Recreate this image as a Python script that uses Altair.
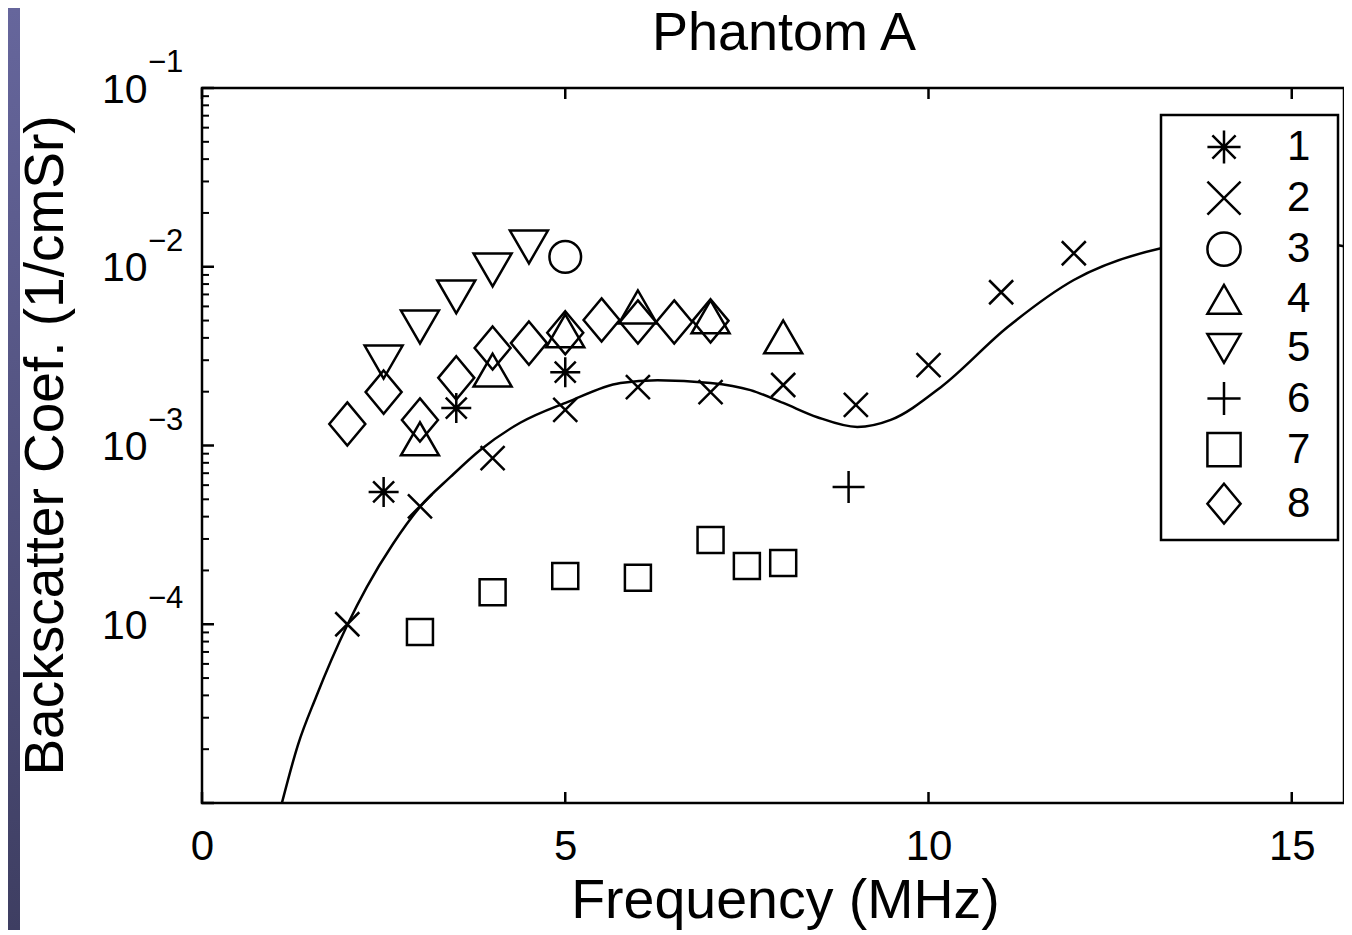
import altair as alt
import pandas as pd

# ---------------- data ----------------
series_names = ["1", "2", "3", "4", "5", "6", "7", "8"]

s1_f = [2.5, 3.5, 5.0]
s1_v = [5.5e-4, 1.62e-3, 2.57e-3]
s2_f = [2, 3, 4, 5, 6, 7, 8, 9, 10, 11, 12]
s2_v = [1.0e-4, 4.57e-4, 8.5e-4, 1.58e-3, 2.12e-3, 1.99e-3, 2.18e-3, 1.69e-3, 2.82e-3, 7.2e-3, 1.19e-2]
s3_f = [5.0]
s3_v = [1.135e-2]
s4_f = [3, 4, 5, 6, 7, 8]
s4_v = [1.09e-3, 2.64e-3, 4.38e-3, 5.96e-3, 5.24e-3, 4.05e-3]
s5_f = [2.5, 3, 3.5, 4, 4.5]
s5_v = [2.93e-3, 4.60e-3, 6.78e-3, 9.59e-3, 1.29e-2]
s6_f = [8.9]
s6_v = [5.86e-4]
s7_f = [3, 4, 5, 6, 7, 7.5, 8]
s7_v = [9.06e-5, 1.51e-4, 1.86e-4, 1.82e-4, 2.96e-4, 2.12e-4, 2.20e-4]
s8_f = [2, 2.5, 3, 3.5, 4, 4.5, 5, 5.5, 6, 6.5, 7]
s8_v = [1.32e-3, 1.99e-3, 1.39e-3, 2.39e-3, 3.51e-3, 3.74e-3, 4.27e-3, 5.04e-3, 4.91e-3, 4.91e-3, 4.98e-3]

# fitted model curve
fit_f = [1.10, 1.32, 1.57, 2.00, 2.27, 2.63, 3.00, 3.42, 3.83, 4.38, 5.03, 5.76, 6.27,
         7.00, 7.55, 8.00, 8.47, 9.02, 9.48, 10.17, 11.09, 12.00, 13.20, 14.44, 15.68, 15.84]
fit_v = [1.0e-5, 2.11e-5, 3.92e-5, 9.9e-5, 1.62e-4, 2.82e-4, 4.53e-4, 6.67e-4, 9.44e-4,
         1.34e-3, 1.75e-3, 2.24e-3, 2.32e-3, 2.24e-3, 2.04e-3, 1.73e-3, 1.44e-3, 1.27e-3,
         1.39e-3, 2.12e-3, 4.60e-3, 8.43e-3, 1.27e-2, 1.45e-2, 1.31e-2, 1.26e-2]

# axis ticks / labels
x_ticks = [0, 5, 10, 15]
y_major = [1e-1, 1e-2, 1e-3, 1e-4, 1e-5]
y_label_vals = [1e-1, 1e-2, 1e-3, 1e-4]
y_label_exps = ["\u22121", "\u22122", "\u22123", "\u22124"]
y_minor = [k * 10.0 ** d for d in (-5, -4, -3, -2) for k in range(2, 10)]

# marker styles
shape_paths = [
    "M-1,0L1,0M0,-1L0,1M-0.7,-0.7L0.7,0.7M-0.7,0.7L0.7,-0.7",  # asterisk
    "M-1,-1L1,1M-1,1L1,-1",                                      # x
    "circle",
    "triangle-up",
    "triangle-down",
    "M-1,0L1,0M0,-1L0,1",                                        # plus
    "square",
    "M0,-1.2L1,0L0,1.2L-1,0Z",                                   # diamond
]
shape_sizes = [900, 576, 1000, 1444, 1444, 1024, 676, 1296]

# ---------------- tables ----------------
all_f = [s1_f, s2_f, s3_f, s4_f, s5_f, s6_f, s7_f, s8_f]
all_v = [s1_v, s2_v, s3_v, s4_v, s5_v, s6_v, s7_v, s8_v]
rows = []
for name, fs, vs, sz in zip(series_names, all_f, all_v, shape_sizes):
    for f, v in zip(fs, vs):
        rows.append({"f": f, "v": v, "series": name, "sz": sz})
pts = pd.DataFrame(rows)
fit = pd.DataFrame({"f": fit_f, "v": fit_v})

PAD_L, PAD_T = 194, 80
SVG_W, SVG_H = 1336, 922
W, H = SVG_W - PAD_L, 715
PAD_B = SVG_H - PAD_T - H
XMAX = W / 72.65
FONT = "Liberation Sans"

xscale = alt.Scale(domain=[0, XMAX], nice=False, zero=False)
yscale = alt.Scale(type="log", domain=[1e-5, 1e-1], nice=False)

xaxis = alt.Axis(values=x_ticks, title="Frequency (MHz)", ticks=False, domain=False, grid=False,
                 labelFontSize=42, labelPadding=56, labelBaseline="alphabetic", labelFlush=False,
                 labelOverlap=False, titleFontSize=55.5, titleFontWeight="normal",
                 titleBaseline="alphabetic", titleX=583, titleY=114, titleAlign="center")
yaxis = alt.Axis(values=y_label_vals, labelExpr="'10'", ticks=False, domain=False, grid=False,
                 labelFontSize=41, labelPadding=55, labelBaseline="alphabetic", labelOffset=14,
                 labelFlush=False, labelOverlap=False,
                 title="Backscatter Coef. (1/cmSr)", titleFontSize=55, titleFontWeight="normal",
                 titleAngle=270, titleBaseline="alphabetic", titleX=-140, titleY=357,
                 titleAlign="center")

X = lambda fld: alt.X(fld, scale=xscale, axis=xaxis)
Y = lambda fld: alt.Y(fld, scale=yscale, axis=yaxis)

# left slide band (decoration)
band = alt.Chart(pd.DataFrame({"a": [0]})).mark_rect(
    color=alt.LinearGradient(gradient="linear", x1=0, x2=0, y1=0, y2=1,
                             stops=[alt.GradientStop(offset=0, color="#66669c"),
                                    alt.GradientStop(offset=1, color="#3e3e62")])
).encode(x=alt.value(-PAD_L), x2=alt.value(-PAD_L + 12), y=alt.value(-PAD_T), y2=alt.value(H + PAD_B))

curve = alt.Chart(fit).mark_line(color="black", strokeWidth=2.5, interpolate="monotone",
                                 clip=True).encode(x=X("f:Q"), y=Y("v:Q"))

ymaj = alt.Chart(pd.DataFrame({"t": y_major})).mark_rule(color="black", strokeWidth=2.5).encode(
    y=Y("t:Q"), x=alt.value(0), x2=alt.value(12))
ymin = alt.Chart(pd.DataFrame({"t": y_minor})).mark_rule(color="black", strokeWidth=2).encode(
    y=Y("t:Q"), x=alt.value(0), x2=alt.value(7))
xbot = alt.Chart(pd.DataFrame({"t": x_ticks})).mark_rule(color="black", strokeWidth=2.5).encode(
    x=X("t:Q"), y=alt.value(H), y2=alt.value(H - 11))
xtop = alt.Chart(pd.DataFrame({"t": x_ticks})).mark_rule(color="black", strokeWidth=2.5).encode(
    x=X("t:Q"), y=alt.value(0), y2=alt.value(11))

exps = alt.Chart(pd.DataFrame({"t": y_label_vals, "e": y_label_exps})).mark_text(
    align="left", baseline="alphabetic", dy=-16, fontSize=31, font=FONT, color="black"
).encode(y=Y("t:Q"), x=alt.value(-54), text="e:N")

points = alt.Chart(pts).mark_point(filled=False, color="black", strokeWidth=2.5, opacity=1).encode(
    x=X("f:Q"), y=Y("v:Q"),
    shape=alt.Shape("series:N", scale=alt.Scale(domain=series_names, range=shape_paths),
                    legend=alt.Legend(title="\u00a0", titleOrient="right", titlePadding=17,
                                      titleFontSize=10, orient="none", legendX=959, legendY=27)),
    size=alt.Size("sz:Q", scale=None),
)

chart = alt.layer(band, curve, ymin, ymaj, xbot, xtop, exps, points).properties(
    width=W, height=H,
    padding={"left": PAD_L, "top": PAD_T, "right": 0, "bottom": PAD_B},
    autosize=alt.AutoSizeParams(type="none"),
    title=alt.TitleParams(text="Phantom A", fontSize=54, font=FONT, fontWeight="normal",
                          color="black", anchor="middle", dx=11, offset=-96, baseline="alphabetic"),
).configure(font=FONT, background="white").configure_view(
    stroke="black", strokeWidth=2.5
).configure_axis(
    labelFont=FONT, titleFont=FONT, labelColor="black", titleColor="black"
).configure_legend(
    strokeColor="black", strokeWidth=2.5, fillColor="white", padding=11, rowPadding=7.1,
    symbolSize=1100, symbolStrokeWidth=2.5, symbolStrokeColor="black", symbolOffset=31,
    labelOffset=42, labelFont=FONT, labelFontSize=42, labelColor="black"
)

chart.save("out.html", embed_options={"renderer": "svg", "actions": False})
